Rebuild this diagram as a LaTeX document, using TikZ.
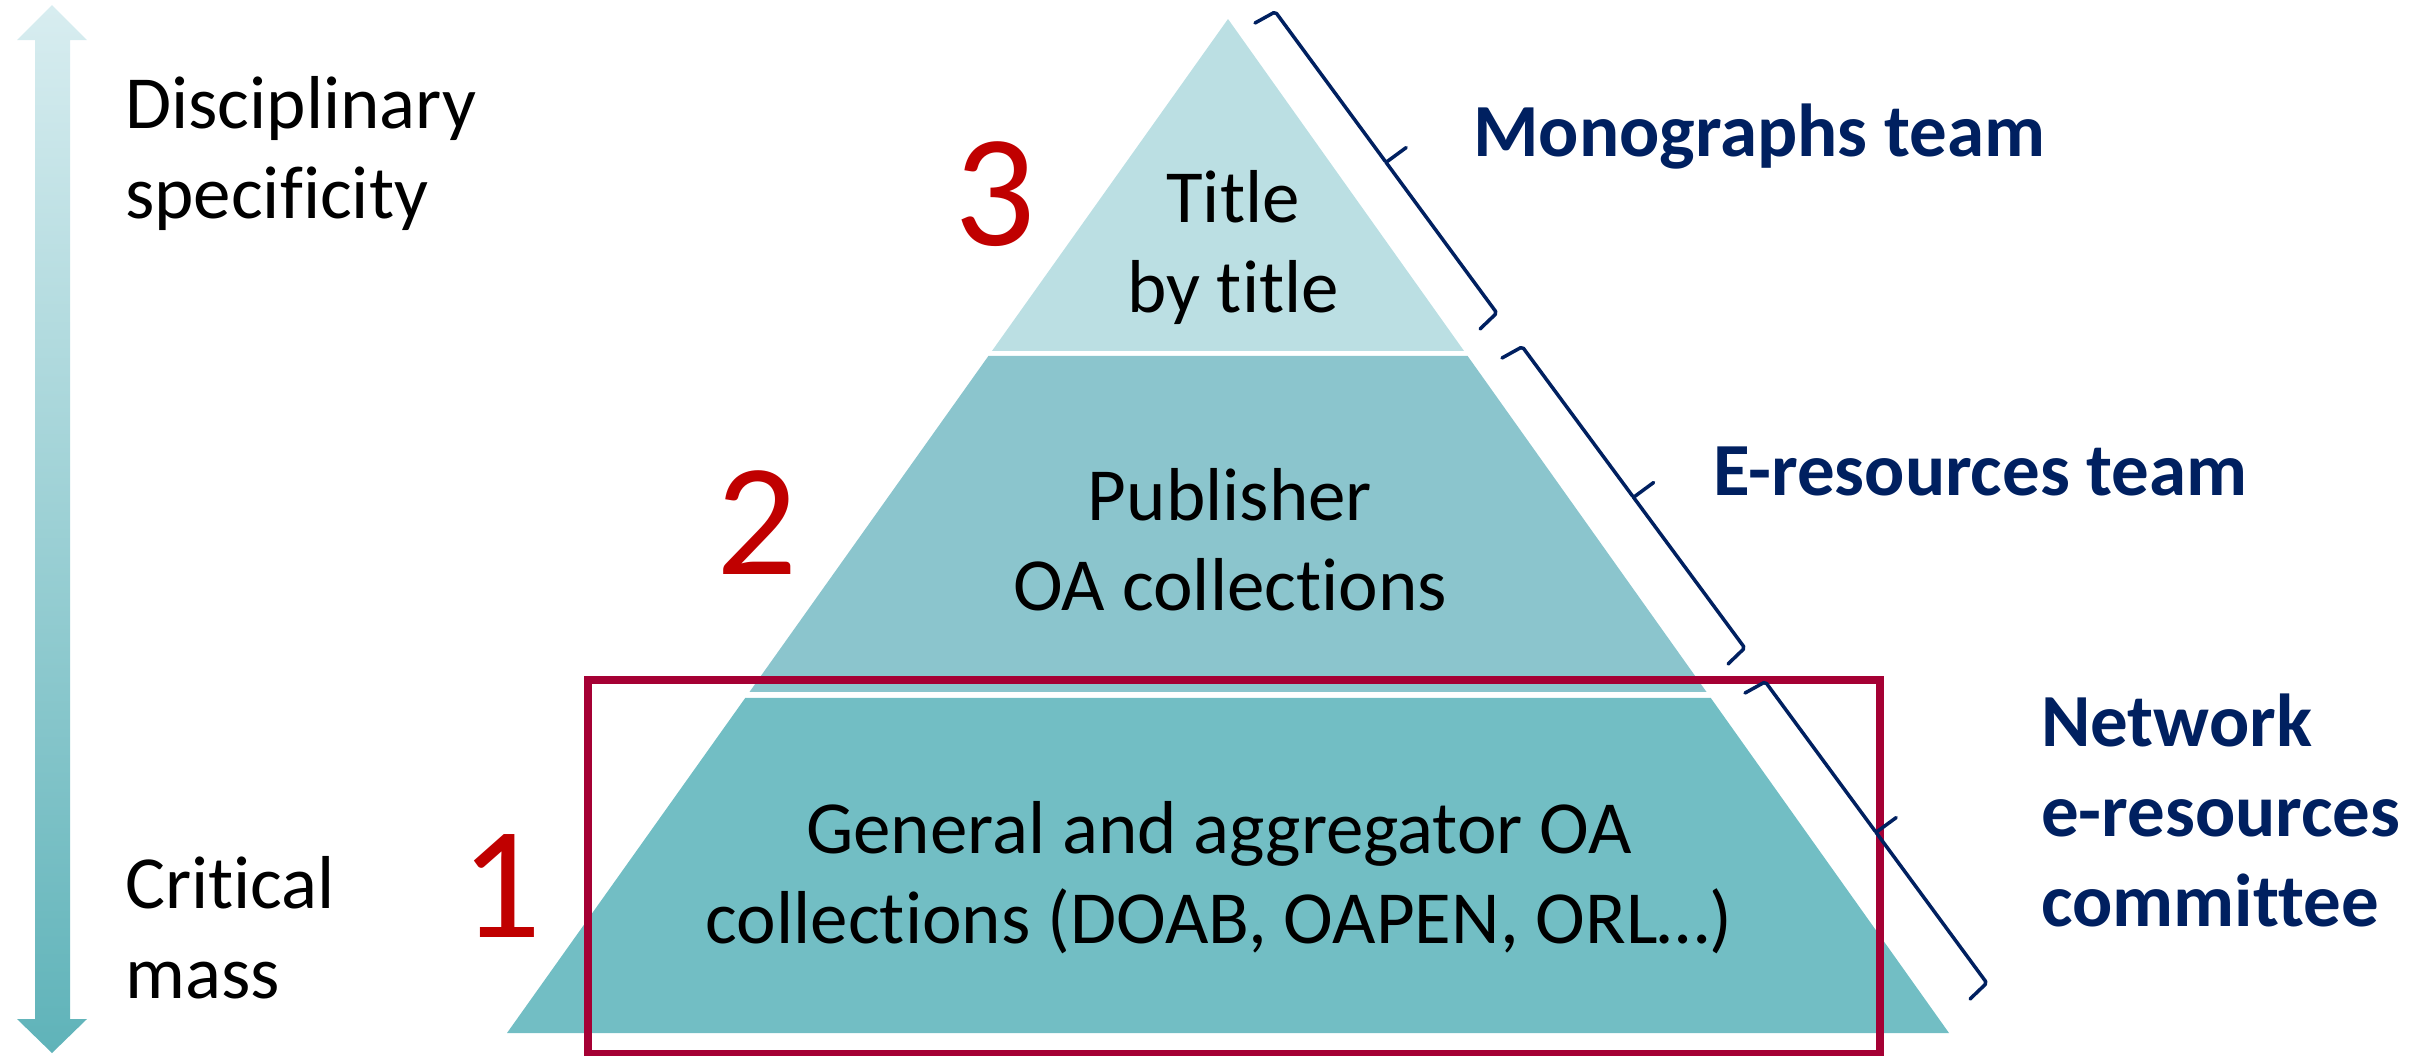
\documentclass[tikz,border=0pt]{standalone}
\usepackage{fontspec}
\setmainfont{Carlito}[Ligatures={NoCommon}]
\usetikzlibrary{calc}
\definecolor{tierA}{HTML}{BBDFE3}
\definecolor{tierB}{HTML}{8BC5CD}
\definecolor{tierC}{HTML}{72BEC4}
\definecolor{navy}{HTML}{002060}
\definecolor{numred}{HTML}{C00000}
\definecolor{boxred}{HTML}{A50034}
\definecolor{arrtop}{HTML}{D8EDF0}
\definecolor{arrbot}{HTML}{5FB3B9}
\tikzset{
  txt/.style={inner sep=0pt, font=\fontsize{75}{90}\selectfont},
  team/.style={txt, text=navy, font=\fontsize{75}{90}\selectfont\bfseries},
  num/.style={inner sep=0pt, text=numred, font=\fontsize{160}{190}\selectfont},
  bracestyle/.style={draw=navy, line width=3.5pt, line join=round, line cap=round, rounded corners=2pt},
  hilite/.style={draw=boxred, line width=7.5pt}
}
\begin{document}
\begin{tikzpicture}[x=1pt,y=-1pt]
\useasboundingbox (0,0) rectangle (2428,1055);
% gradient double arrow
\shade[top color=arrtop, bottom color=arrbot]
  (52,5) -- (87,40) -- (70,40) -- (70,1019) -- (87,1019) -- (52,1053)
  -- (17,1019) -- (35,1019) -- (35,40) -- (17,40) -- cycle;
% pyramid
\coordinate (apex) at (1228,19);
\coordinate (bl) at (507,1033);
\coordinate (br) at (1949,1033);
\fill[tierA] (apex) -- ($(apex)!0.3274!(br)$) -- ($(apex)!0.3274!(bl)$) -- cycle;
\fill[tierB] ($(apex)!0.3323!(bl)$) -- ($(apex)!0.3323!(br)$) -- ($(apex)!0.6637!(br)$) -- ($(apex)!0.6637!(bl)$) -- cycle;
\fill[tierC] ($(apex)!0.6696!(bl)$) -- ($(apex)!0.6696!(br)$) -- (br) -- (bl) -- cycle;
% left labels
\node[txt, anchor=base west] (spec) at (125,128) {\begin{tabular}[t]{@{}l@{}}Disciplinary\\specificity\end{tabular}};
\node[txt, anchor=base west] (mass) at (125,908) {\begin{tabular}[t]{@{}l@{}}Critical\\mass\end{tabular}};
% tier labels
\node[txt, anchor=base] (t3) at (1233,222) {\begin{tabular}[t]{@{}c@{}}Title\\by title\end{tabular}};
\node[txt, anchor=base] (t2) at (1230,520) {\begin{tabular}[t]{@{}c@{}}Publisher\\OA collections\end{tabular}};
\node[txt, anchor=base] (t1) at (1219,853) {\begin{tabular}[t]{@{}c@{}}General and aggregator OA\\collections (DOAB, OAPEN, ORL…)\end{tabular}};
% numbers
\node[num, anchor=base] (n3) at (995,245) {3};
\node[num, anchor=base] (n2) at (757,574) {2};
\node[num, anchor=base] (n1) at (501,937) {1};
% highlight box
\node[hilite, minimum width=1292pt, minimum height=374pt, anchor=north west, inner sep=0pt] (hl) at (584,676) {};
% braces
\coordinate (b1s) at (1255,23);  \coordinate (b1e) at (1480,329);
\coordinate (b2s) at (1502,358); \coordinate (b2e) at (1728,664);
\coordinate (b3s) at (1745,693); \coordinate (b3e) at (1970,999);
\foreach \s/\e in {b1s/b1e,b2s/b2e,b3s/b3e}{
  \draw[bracestyle] (\s) -- ($(\s)!3pt!(\e)!23pt!90:(\e)$) -- ($(\s)!0.5!(\e)!23pt!90:(\e)$) -- ($(\s)!0.5!(\e)!48pt!90:(\e)$);
  \draw[bracestyle] ($(\s)!0.5!(\e)!23pt!90:(\e)$) -- ($(\e)!3pt!(\s)!23pt!-90:(\s)$) -- (\e);
}
% team labels
\node[team, anchor=base west] (mono) at (1473,156) {Monographs team};
\node[team, anchor=base west] (eres) at (1713,495) {E-resources team};
\node[team, anchor=base west] (netw) at (2041,746) {\begin{tabular}[t]{@{}l@{}}Network\\e-resources\\committee\end{tabular}};
\end{tikzpicture}
\end{document}
